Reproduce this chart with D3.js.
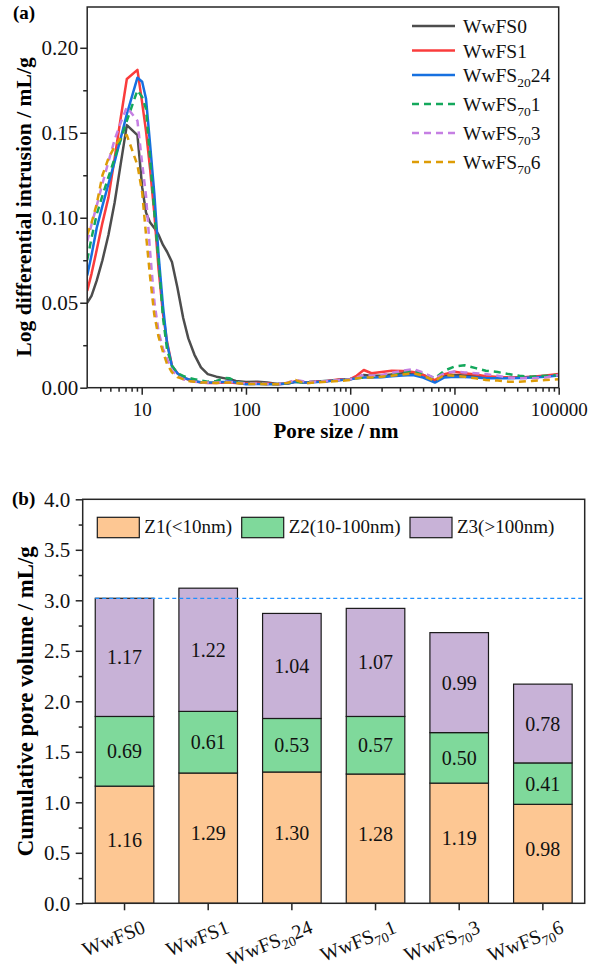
<!DOCTYPE html>
<html><head><meta charset="utf-8">
<script src="https://cdn.jsdelivr.net/npm/d3@7"></script>
<style>
body{margin:0;background:#fff;}
svg{display:block;font-family:"Liberation Serif","Times New Roman",serif;}
</style></head><body>
<svg id="chart" width="598" height="965"></svg>
<script>
// ---------- data: pore size distribution (panel a) ----------
const poreSize = [3.0, 3.3, 3.7, 4.2, 4.8, 5.5, 6.3, 7.2,
  9.1, 10.1, 11.0, 12.0, 13.2, 14.5, 16.0, 17.5, 19.5,
  22, 25, 28, 32, 37, 43, 52, 63, 70, 80, 100,
  130, 160, 200, 250, 300, 370, 450, 600, 800, 1000,
  1150, 1350, 1600, 2000, 2500, 3200, 4000, 5000, 6500, 8000,
  10000, 12500, 16000, 20000, 26000, 33000, 42000, 55000, 75000, 100000];

const seriesNames = ["WwFS0", "WwFS1", "WwFS_{20}24", "WwFS_{70}1", "WwFS_{70}3", "WwFS_{70}6"];

const wwfs0 = [0.050, 0.054, 0.063, 0.075, 0.090, 0.109, 0.132, 0.1545,
  0.1486, 0.118, 0.103, 0.0973, 0.094, 0.090, 0.084, 0.080, 0.074,
  0.059, 0.041, 0.029, 0.0195, 0.012, 0.008, 0.0065, 0.0055, 0.005, 0.004, 0.0033,
  0.0035, 0.003, 0.0022, 0.0025, 0.0035, 0.003, 0.0035, 0.004, 0.0045, 0.005,
  0.006, 0.0075, 0.007, 0.0072, 0.0078, 0.0085, 0.0088, 0.0075, 0.004, 0.007,
  0.0075, 0.0072, 0.007, 0.0065, 0.0062, 0.006, 0.006, 0.0063, 0.0068, 0.0075];

const wwfs1 = [0.057, 0.067, 0.081, 0.097, 0.112, 0.135, 0.159, 0.1816,
  0.187, 0.1676, 0.151, 0.1293, 0.1027, 0.070, 0.0436, 0.027, 0.013,
  0.0085, 0.006, 0.0048, 0.0038, 0.003, 0.0028, 0.0027, 0.003, 0.003, 0.0028, 0.0025,
  0.0028, 0.0025, 0.002, 0.0025, 0.0038, 0.003, 0.0035, 0.004, 0.005, 0.005,
  0.007, 0.0104, 0.0085, 0.0092, 0.010, 0.0098, 0.0092, 0.0075, 0.0045, 0.008,
  0.0094, 0.0085, 0.0078, 0.0068, 0.0063, 0.006, 0.006, 0.0065, 0.0072, 0.008];

const wwfs2024 = [0.066, 0.078, 0.094, 0.107, 0.120, 0.133, 0.147, 0.161,
  0.1824, 0.180, 0.170, 0.144, 0.1145, 0.0785, 0.048, 0.026, 0.0127,
  0.0085, 0.006, 0.005, 0.004, 0.0032, 0.003, 0.003, 0.0035, 0.004, 0.003, 0.002,
  0.0022, 0.002, 0.002, 0.0025, 0.0035, 0.003, 0.0032, 0.0038, 0.0045, 0.005,
  0.0055, 0.006, 0.006, 0.0062, 0.0068, 0.0072, 0.0075, 0.006, 0.003, 0.006,
  0.0065, 0.0063, 0.006, 0.0055, 0.0055, 0.0055, 0.0057, 0.006, 0.0065, 0.0072];

const wwfs701 = [0.075, 0.088, 0.102, 0.113, 0.124, 0.135, 0.146, 0.157,
  0.175, 0.171, 0.164, 0.1356, 0.1036, 0.075, 0.0413, 0.0225, 0.013,
  0.0085, 0.007, 0.0058, 0.005, 0.0042, 0.0035, 0.004, 0.0058, 0.0055, 0.0035, 0.0025,
  0.0025, 0.0022, 0.0022, 0.0028, 0.0035, 0.003, 0.0035, 0.004, 0.0045, 0.005,
  0.0055, 0.006, 0.0065, 0.0068, 0.0078, 0.0092, 0.010, 0.0085, 0.0055, 0.010,
  0.0125, 0.0132, 0.0115, 0.010, 0.0092, 0.008, 0.007, 0.0065, 0.007, 0.0075];

const wwfs703 = [0.086, 0.096, 0.107, 0.120, 0.133, 0.146, 0.156, 0.165,
  0.157, 0.132, 0.113, 0.081, 0.051, 0.033, 0.023, 0.017, 0.010,
  0.007, 0.005, 0.004, 0.0035, 0.003, 0.003, 0.003, 0.0035, 0.0033, 0.003, 0.0025,
  0.0025, 0.0022, 0.0022, 0.003, 0.0045, 0.0035, 0.0035, 0.004, 0.0045, 0.005,
  0.006, 0.0075, 0.007, 0.0075, 0.0088, 0.010, 0.011, 0.009, 0.0055, 0.0085,
  0.0095, 0.009, 0.0085, 0.008, 0.007, 0.006, 0.0055, 0.0055, 0.006, 0.0075];

const wwfs706 = [0.090, 0.097, 0.108, 0.125, 0.135, 0.142, 0.147, 0.1486,
  0.131, 0.115, 0.090, 0.066, 0.043, 0.030, 0.021, 0.014, 0.009,
  0.0063, 0.005, 0.004, 0.0035, 0.003, 0.003, 0.0028, 0.003, 0.003, 0.0028, 0.0022,
  0.0022, 0.002, 0.002, 0.0028, 0.0045, 0.0025, 0.003, 0.0035, 0.004, 0.0045,
  0.0055, 0.006, 0.006, 0.0065, 0.007, 0.0078, 0.0085, 0.007, 0.004, 0.0075,
  0.007, 0.0065, 0.0055, 0.0045, 0.0042, 0.0035, 0.0035, 0.004, 0.0045, 0.005];

const seriesValues = [wwfs0, wwfs1, wwfs2024, wwfs701, wwfs703, wwfs706];
const seriesColors = ["#4d4d4d", "#fa3c3c", "#1670e0", "#14a85c", "#c57fe3", "#dd9c06"];
const seriesDashed = [false, false, false, true, true, true];

const xTicksA = [10, 100, 1000, 10000, 100000];
const yTicksA = [0, 0.05, 0.10, 0.15, 0.20];

// ---------- data: cumulative pore volume (panel b) ----------
const sampleNames = ["WwFS0", "WwFS1", "WwFS_{20}24", "WwFS_{70}1", "WwFS_{70}3", "WwFS_{70}6"];
const zoneKeys = ["z1", "z2", "z3"];
const zoneLabels = ["Z1(<10nm)", "Z2(10-100nm)", "Z3(>100nm)"];
const zoneColors = ["#fdc793", "#7fd99b", "#c8b2d7"];
const z1 = [1.16, 1.29, 1.30, 1.28, 1.19, 0.98];
const z2 = [0.69, 0.61, 0.53, 0.57, 0.50, 0.41];
const z3 = [1.17, 1.22, 1.04, 1.07, 0.99, 0.78];
const yTicksB = [0, 0.5, 1.0, 1.5, 2.0, 2.5, 3.0, 3.5, 4.0];

// ---------- helpers ----------
const svg = d3.select("#chart");
const INK = "#262626";
const SERIF = '"Liberation Serif","Times New Roman",serif';

// writes a label like "WwFS_{70}1" with a subscript part
function richText(sel, label, subSize, shift) {
  const m = label.match(/^(.*?)_\{(.*?)\}(.*)$/);
  if (!m) { sel.text(label); return; }
  sel.append("tspan").text(m[1]);
  sel.append("tspan").attr("font-size", subSize).attr("dy", shift).text(m[2]);
  sel.append("tspan").attr("dy", -shift).text(m[3]);
}

function styleAxis(g, fontSize) {
  g.attr("font-family", SERIF);
  g.select(".domain").remove();
  g.selectAll(".tick line").attr("stroke", INK).attr("stroke-width", 1.5);
  g.selectAll(".tick text").attr("fill", "#111").attr("font-size", fontSize);
}

// ================= panel (a) =================
const A = {left: 87.2, right: 558.7, top: 7, bottom: 387.7};
const xA = d3.scaleLog().domain([3, 100000]).range([A.left, A.right]);
const yA = d3.scaleLinear().domain([0, 0.224]).range([A.bottom, A.top]);

const minorXA = [];
for (let e = 0; e < 5; e++) for (let k = 2; k <= 9; k++) {
  const v = k * Math.pow(10, e);
  if (v > 3 && v < 100000 && !xTicksA.includes(v)) minorXA.push(v);
}
const minorYA = [0.025, 0.075, 0.125, 0.175];

const gA = svg.append("g");
gA.append("g").attr("transform", `translate(0,${A.bottom})`)
  .call(d3.axisBottom(xA).tickValues(minorXA).tickSize(4).tickFormat(""))
  .call(g => styleAxis(g, 19));
gA.append("g").attr("transform", `translate(0,${A.bottom})`)
  .call(d3.axisBottom(xA).tickValues(xTicksA).tickSize(7).tickPadding(8).tickFormat(d3.format("d")))
  .call(g => styleAxis(g, 19));
gA.append("g").attr("transform", `translate(${A.left},0)`)
  .call(d3.axisLeft(yA).tickValues(minorYA).tickSize(4).tickFormat(""))
  .call(g => styleAxis(g, 21));
gA.append("g").attr("transform", `translate(${A.left},0)`)
  .call(d3.axisLeft(yA).tickValues(yTicksA).tickSize(7).tickPadding(2).tickFormat(d3.format(".2f")))
  .call(g => styleAxis(g, 21));

svg.append("defs").append("clipPath").attr("id", "clipA")
  .append("rect").attr("x", A.left).attr("y", A.top)
  .attr("width", A.right - A.left).attr("height", A.bottom - A.top);

const line = d3.line().x(d => xA(d[0])).y(d => yA(d[1]));
const curves = gA.append("g").attr("clip-path", "url(#clipA)");
seriesValues.forEach((vals, i) => {
  curves.append("path")
    .datum(poreSize.map((p, j) => [p, vals[j]]))
    .attr("d", line)
    .attr("fill", "none")
    .attr("stroke", seriesColors[i])
    .attr("stroke-width", 2.5)
    .attr("stroke-linejoin", "round")
    .attr("stroke-dasharray", seriesDashed[i] ? "7,5" : null);
});

gA.append("rect").attr("x", A.left).attr("y", A.top)
  .attr("width", A.right - A.left).attr("height", A.bottom - A.top)
  .attr("fill", "none").attr("stroke", INK).attr("stroke-width", 1.5);

// legend (a)
const legA = gA.append("g");
seriesNames.forEach((name, i) => {
  const y = 26 + i * 24.5 + (i >= 3 ? (i - 2) * 4.5 : 0);
  legA.append("line").attr("x1", 412).attr("x2", 455).attr("y1", y).attr("y2", y)
    .attr("stroke", seriesColors[i]).attr("stroke-width", 2.5)
    .attr("stroke-dasharray", seriesDashed[i] ? "7,5" : null);
  const t = legA.append("text").attr("x", 463).attr("y", y + 7)
    .attr("font-size", 19.5).attr("fill", "#111");
  richText(t, name, 13.5, 5);
});

// titles (a)
svg.append("text").attr("x", 13).attr("y", 19).attr("font-size", 19)
  .attr("font-weight", "bold").text("(a)");
svg.append("text").attr("x", 336).attr("y", 438).attr("text-anchor", "middle")
  .attr("font-size", 21).attr("font-weight", "bold").text("Pore size / nm");
svg.append("text").attr("transform", "translate(31,207) rotate(-90)")
  .attr("text-anchor", "middle").attr("font-size", 21.6).attr("font-weight", "bold")
  .text("Log differential intrusion / mL/g");

// ================= panel (b) =================
const B = {left: 82.7, right: 584.7, top: 499.3, bottom: 903.3};
const xB = d3.scaleBand().domain(sampleNames).range([B.left, B.right])
  .paddingInner(0.3).paddingOuter(0.15);
const yB = d3.scaleLinear().domain([0, 4]).range([B.bottom, B.top]);

const rows = sampleNames.map((n, i) => ({name: n, z1: z1[i], z2: z2[i], z3: z3[i]}));
const stacked = d3.stack().keys(zoneKeys)(rows);

const gB = svg.append("g");
const minorYB = yTicksB.slice(0, -1).map(v => v + 0.25);
gB.append("g").attr("transform", `translate(${B.left},0)`)
  .call(d3.axisLeft(yB).tickValues(minorYB).tickSize(4).tickFormat(""))
  .call(g => styleAxis(g, 21));
gB.append("g").attr("transform", `translate(${B.left},0)`)
  .call(d3.axisLeft(yB).tickValues(yTicksB).tickSize(7).tickPadding(5.5).tickFormat(d3.format(".1f")))
  .call(g => styleAxis(g, 21));
gB.append("g").attr("transform", `translate(0,${B.bottom})`)
  .call(d3.axisBottom(xB).tickSize(7).tickFormat(""))
  .call(g => styleAxis(g, 20));

stacked.forEach((layer, li) => {
  const g = gB.append("g");
  g.selectAll("rect").data(layer).join("rect")
    .attr("x", d => xB(d.data.name))
    .attr("width", xB.bandwidth())
    .attr("y", d => yB(d[1]))
    .attr("height", d => yB(d[0]) - yB(d[1]))
    .attr("fill", zoneColors[li])
    .attr("stroke", "#1a1a1a").attr("stroke-width", 1.2);
  g.selectAll("text").data(layer).join("text")
    .attr("x", d => xB(d.data.name) + xB.bandwidth() / 2)
    .attr("y", d => (yB(d[0]) + yB(d[1])) / 2 + (li === 0 ? -5 : 0))
    .attr("dy", "0.35em")
    .attr("text-anchor", "middle").attr("font-size", 20).attr("fill", "#111")
    .text(d => d3.format(".2f")(d[1] - d[0]));
});

// reference level: total volume of the first sample
const refTotal = z1[0] + z2[0] + z3[0];
gB.append("line").attr("x1", xB(sampleNames[0])).attr("x2", B.right)
  .attr("y1", yB(refTotal)).attr("y2", yB(refTotal))
  .attr("stroke", "#1e8fff").attr("stroke-width", 1.3).attr("stroke-dasharray", "4,3");

gB.append("rect").attr("x", B.left).attr("y", B.top)
  .attr("width", B.right - B.left).attr("height", B.bottom - B.top)
  .attr("fill", "none").attr("stroke", INK).attr("stroke-width", 1.5);

// rotated category labels
sampleNames.forEach(name => {
  const cx = xB(name) + xB.bandwidth() / 2;
  const t = gB.append("text")
    .attr("transform", `translate(${cx + 22},${B.bottom + 29}) rotate(-22)`)
    .attr("text-anchor", "end").attr("font-size", 20).attr("fill", "#111");
  richText(t, name, 14, 5);
});

// legend (b)
const legX = [97.3, 241.7, 410];
zoneLabels.forEach((lab, i) => {
  gB.append("rect").attr("x", legX[i]).attr("y", 517.3).attr("width", 42).attr("height", 20.4)
    .attr("fill", zoneColors[i]).attr("stroke", "#1a1a1a").attr("stroke-width", 1.2);
  gB.append("text").attr("x", legX[i] + 47).attr("y", 533).attr("font-size", 19)
    .attr("fill", "#111").text(lab);
});

svg.append("text").attr("x", 12).attr("y", 505).attr("font-size", 19)
  .attr("font-weight", "bold").text("(b)");
svg.append("text").attr("transform", `translate(33,${(B.top + B.bottom) / 2}) rotate(-90)`)
  .attr("text-anchor", "middle").attr("font-size", 22.8).attr("font-weight", "bold")
  .text("Cumulative pore volume / mL/g");
</script>
</body></html>
